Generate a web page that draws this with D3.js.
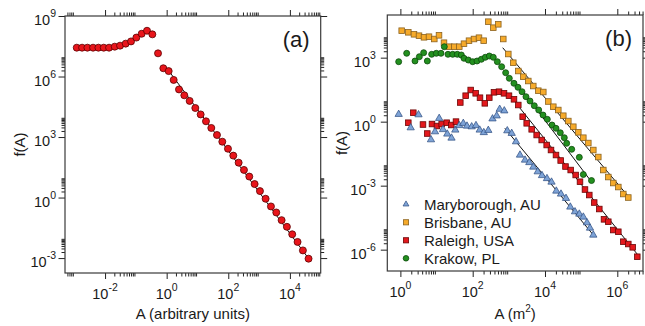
<!DOCTYPE html>
<html><head><meta charset="utf-8">
<script src="https://cdn.jsdelivr.net/npm/d3@7"></script>
<style>
body{margin:0;background:#fff}
svg{display:block}
text{font-family:"Liberation Sans",Arial,Helvetica,sans-serif;fill:#1a1a1a}
</style>
</head><body>
<svg id="c" width="645" height="326"></svg>
<script>
// ---------- Panel (a) data ----------
const aX = [1.205e-3,1.795e-3,2.673e-3,4.08e-3,6.08e-3,9.06e-3,1.349e-2,2.06e-2,3.07e-2,4.68e-2,6.97e-2,
  0.1037,0.1545,0.230,0.343,0.524,0.780,1.161,1.687,2.512,3.741,5.572,8.511,12.68,18.88,28.12,42.95,63.97,
  97.72,145.5,216.8,322.8,480.8,716.1,1067,1629,2427,3614,5383,7998,11912,17742,26424,40365];
const aY = [2.69e7,2.69e7,2.69e7,2.69e7,2.69e7,2.69e7,2.69e7,3.02e7,3.39e7,4.27e7,5.50e7,8.51e7,1.32e8,1.86e8,
  1.23e8,1.41e7,2.57e6,1.86e6,6.76e5,2.29e5,1.17e5,6.17e4,2.75e4,1.32e4,6.03e3,2.82e3,1.26e3,589,263,120,
  53.7,23.4,11.0,4.68,2.09,0.871,0.363,0.182,0.0759,0.0355,0.0151,6.31e-3,2.40e-3,9.33e-4];
const aFitX = [1, 41700];
const aFitY = [2.63e6, 8.9e-4];

// ---------- Panel (b) data ----------
const seriesNames = ["Maryborough, AU","Brisbane, AU","Raleigh, USA","Krakow, PL"];

const maryX = [0.897,1.928,3.170,7.015,9.057,11.83,15.07,19.82,25.94,33.04,42.56,54.95,69.50,93.76,123.3,156.3,
  202.8,270.4,353.2,461.3,558.5,748.2,905.7,1199,1578,2032,2799,3681,4742,6281,8260,11350,15140,20560,27730,
  38110,50120,67610,88920,114800,145200,175800,216800];
const maryY = [2.213,0.520,2.118,0.1426,0.338,1.435,0.4285,0.2636,0.1710,0.4064,0.661,0.838,0.625,0.579,0.661,
  0.4064,0.3097,0.3936,1.361,1.879,3.837,3.228,0.3767,0.2844,0.1148,0.0273,0.0159,0.01216,7.48e-3,4.50e-3,
  2.99e-3,2.16e-3,1.48e-3,5.61e-4,4.06e-4,2.55e-4,9.98e-5,6.00e-5,4.68e-5,3.39e-5,1.83e-5,1.03e-5,4.85e-6];

const brisX = [1.087,1.656,2.377,3.273,4.498,6.18,8.67,11.7,16.07,22.54,30.97,42.56,57.41,79.07,108.6,149.3,
  201.4,270.4,371.5,510.5,701.5,966,1327,1824,2512,3451,4742,6531,8974,12330,16980,23330,32060,44160,60670,
  83370,114800,157800,216800,297900,410200,563600,774500,1067000,1466000,2014000];
const brisY = [18370,15450,12450,10720,9016,9616,7499,11170,5023,3266,3266,3266,4508,6237,7499,8630,6237,
  48530,25410,36640,7499,1486,580.8,237.1,127.9,80.54,46.88,28.25,24.55,8.81,5.02,3.52,1.90,1.07,0.579,
  0.317,0.177,0.0998,0.0469,0.0220,5.41e-3,2.54e-3,1.33e-3,8.63e-4,4.06e-4,2.78e-4];

const raleX = [1.656,2.275,4.217,5.546,7.482,10.28,13.87,19.10,25.59,34.51,45.39,63.97,88.10,121.1,159.2,216.3,
  287.7,388.1,534.6,734.5,1009,1387,1824,2415,3119,4285,5888,8110,11140,14660,20140,27160,36900,51400,70630,
  92900,127600,167900,229600,317700,428500,563600,774500,1067000,1466000,2014000,2667000,3573000];
const raleY = [0.893,2.630,0.735,0.278,0.776,0.625,0.776,0.893,0.697,1.005,7.91,16.48,30.48,21.33,13.27,7.24,
  13.27,23.77,25.35,21.33,16.48,11.17,6.04,1.706,0.838,0.4375,0.2366,0.1380,0.0804,0.0469,0.0273,0.0151,
  7.89e-3,5.41e-3,3.16e-3,1.53e-3,6.59e-4,3.64e-4,1.62e-4,8.04e-5,2.64e-5,2.04e-5,8.32e-6,6.92e-6,2.36e-6,
  1.84e-6,1.29e-6,4.66e-7];

const krakX = [0.897,1.493,2.535,3.342,4.406,5.559,7.328,9.863,13.27,16.41,20.75,27.93,37.58,48.53,57.54,75.68,
  99.77,131.5,173.4,223.4,288.4,371.5,479.7,632.4,816.6,1030,1387,1791,2312,2979,3846,5058,6699,8810,11590,
  15630,20140,26490,34200,39810,54830,88920,114800,193200];
const krakY = [647,1600,697,1109,1710,697,1435,1600,1600,3266,1435,1435,1435,1334,933,776,647,697,838,1040,1197,
  1040,647,377.6,197.2,107.6,62.81,40.74,25.35,14.79,9.29,5.60,3.52,2.05,1.29,0.697,0.488,0.303,0.177,
  0.0966,0.0506,0.0213,3.33e-3,1.74e-3];

const fitsX = { mary:[776,216800], bris:[676,2239000], rale:[1995,3802000], krak:[2512,199500] };
const fitsY = { mary:[0.49,4.9e-6], bris:[2931,2.55e-4], rale:[4.47,5.37e-7], krak:[25.1,1.41e-3] };

// ---------- tick label exponents ----------
const aXTickExp = [-2,0,2,4];
const aYTickExp = [-3,0,3,6,9];
const bXTickExp = [0,2,4,6];
const bYTickExp = [-6,-3,0,3];

// ---------- drawing ----------
const svg = d3.select("#c");

function minorTicks(exps, dom){
  const out=[];
  const lo=Math.min(dom[0],dom[1]), hi=Math.max(dom[0],dom[1]);
  exps.concat([exps[0]-(exps[1]-exps[0])]).forEach(k=>{
    for(let m=2;m<=9;m++){ const v=m*Math.pow(10,k); if(v>=lo&&v<=hi) out.push(v); }
  });
  return out;
}

function panel(cfg){
  const g = svg.append("g");
  const x = d3.scaleLog().domain(cfg.xDom).range([cfg.left,cfg.right]);
  const y = d3.scaleLog().domain(cfg.yDom).range([cfg.bottom,cfg.top]);
  const majX = cfg.xExp.map(k=>Math.pow(10,k));
  const majY = cfg.yExp.map(k=>Math.pow(10,k));
  const minX = minorTicks(cfg.xExp, cfg.xDom);
  const minY = minorTicks(cfg.yExp, cfg.yDom);

  function ax(gen, transform, vals, size){
    const a = g.append("g").attr("transform",transform)
      .call(gen.tickValues(vals).tickSize(size).tickFormat("").tickSizeOuter(0));
    a.select(".domain").remove();
    a.selectAll("line").attr("stroke","#222").attr("stroke-width",1);
  }
  ax(d3.axisBottom(x),`translate(0,${cfg.bottom})`,majX,6);
  ax(d3.axisBottom(x),`translate(0,${cfg.bottom})`,minX,3.5);
  ax(d3.axisTop(x),`translate(0,${cfg.top})`,majX,6);
  ax(d3.axisTop(x),`translate(0,${cfg.top})`,minX,3.5);
  ax(d3.axisLeft(y),`translate(${cfg.left},0)`,majY,6.5);
  ax(d3.axisLeft(y),`translate(${cfg.left},0)`,minY,3.5);
  ax(d3.axisRight(y),`translate(${cfg.right},0)`,majY,6.5);
  ax(d3.axisRight(y),`translate(${cfg.right},0)`,minY,3.5);

  g.append("rect").attr("x",cfg.left).attr("y",cfg.top)
    .attr("width",cfg.right-cfg.left).attr("height",cfg.bottom-cfg.top)
    .attr("fill","none").attr("stroke","#3a3a3a").attr("stroke-width",1.2);

  cfg.xExp.forEach(k=>{
    const t=g.append("text").attr("x",x(Math.pow(10,k))).attr("y",cfg.bottom+25.5)
      .attr("text-anchor","middle").attr("font-size",14.5);
    t.append("tspan").text("10");
    t.append("tspan").attr("dy",-8).attr("font-size",10.5).text(String(k));
  });
  cfg.yExp.forEach(k=>{
    const t=g.append("text").attr("x",cfg.left-cfg.yLabGap).attr("y",y(Math.pow(10,k))+9.3)
      .attr("text-anchor","end").attr("font-size",14.5);
    t.append("tspan").text("10");
    t.append("tspan").attr("dy",-8).attr("font-size",10.5).text(String(k));
  });
  const xt=g.append("text").attr("x",(cfg.left+cfg.right)/2).attr("y",319)
    .attr("text-anchor","middle").attr("font-size",15);
  cfg.xTitle(xt);
  g.append("text").attr("transform",`translate(${cfg.yTitleX},${(cfg.top+cfg.bottom)/2}) rotate(-90)`)
    .attr("text-anchor","middle").attr("font-size",15).text("f(A)");
  g.append("text").attr("x",cfg.right-11).attr("y",cfg.top+31).attr("text-anchor","end")
    .attr("font-size",22).text(cfg.tag);
  return {g,x,y};
}

// Panel (a)
const pa = panel({left:65,right:320.7,top:16,bottom:273,
  xDom:[5.01e-4,1e5], yDom:[1.82e-4,1e9], xExp:aXTickExp, yExp:aYTickExp, yLabGap:9,
  yTitleX:25, tag:"(a)",
  xTitle:t=>t.text("A (arbitrary units)")});
const lineGen=(p)=>d3.line().x(d=>p.x(d[0])).y(d=>p.y(d[1]));
pa.g.append("path").datum(d3.zip(aFitX,aFitY)).attr("d",lineGen(pa))
  .attr("stroke","#111").attr("stroke-width",1).attr("fill","none");
pa.g.selectAll("circle.pt").data(d3.zip(aX,aY)).join("circle").attr("class","pt")
  .attr("cx",d=>pa.x(d[0])).attr("cy",d=>pa.y(d[1])).attr("r",3.5)
  .attr("fill","#e8151b").attr("stroke","#5a0000").attr("stroke-width",0.8);

// Panel (b)
const pb = panel({left:387.3,right:643,top:15,bottom:271,
  xDom:[0.4345,5.14e6], yDom:[1e-7,1e5], xExp:bXTickExp, yExp:bYTickExp, yLabGap:11.5,
  yTitleX:347, tag:"(b)",
  xTitle:t=>{t.append("tspan").text("A (m");t.append("tspan").attr("dy",-7).attr("font-size",10).text("2");
    t.append("tspan").attr("dy",7).text(")");}});

["bris","krak","rale","mary"].forEach(k=>{
  pb.g.append("path").datum(d3.zip(fitsX[k],fitsY[k])).attr("d",lineGen(pb))
    .attr("stroke","#111").attr("stroke-width",1).attr("fill","none");
});

const styles = {
  mary:{fill:"#7ea3d6",stroke:"#2b4a7e"},
  bris:{fill:"#f6aa2a",stroke:"#8a6220"},
  rale:{fill:"#e3181c",stroke:"#6a0505"},
  krak:{fill:"#23901f",stroke:"#0d4a0b"}
};
function drawSq(data,st,s){
  pb.g.append("g").selectAll("rect").data(data).join("rect")
    .attr("x",d=>pb.x(d[0])-s/2).attr("y",d=>pb.y(d[1])-s/2).attr("width",s).attr("height",s)
    .attr("fill",st.fill).attr("stroke",st.stroke).attr("stroke-width",0.8);
}
function drawCirc(data,st,r){
  pb.g.append("g").selectAll("circle").data(data).join("circle")
    .attr("cx",d=>pb.x(d[0])).attr("cy",d=>pb.y(d[1])).attr("r",r)
    .attr("fill",st.fill).attr("stroke",st.stroke).attr("stroke-width",0.8);
}
function drawTri(data,st,size){
  const sym=d3.symbol(d3.symbolTriangle).size(size);
  pb.g.append("g").selectAll("path").data(data).join("path")
    .attr("transform",d=>`translate(${pb.x(d[0])},${pb.y(d[1])})`).attr("d",sym)
    .attr("fill",st.fill).attr("stroke",st.stroke).attr("stroke-width",0.7);
}
drawSq(d3.zip(brisX,brisY),styles.bris,5.6);
drawCirc(d3.zip(krakX,krakY),styles.krak,3.0);
drawSq(d3.zip(raleX,raleY),styles.rale,5.6);
drawTri(d3.zip(maryX,maryY),styles.mary,23);

// legend
const legKeys=["mary","bris","rale","krak"];
const legY0=204.3, legDy=18;
const lg=pb.g.append("g");
legKeys.forEach((k,i)=>{
  const cy=legY0+i*legDy, cx=406;
  const st=styles[k];
  if(k==="mary") lg.append("path").attr("transform",`translate(${cx},${cy})`)
      .attr("d",d3.symbol(d3.symbolTriangle).size(15)).attr("fill",st.fill).attr("stroke",st.stroke).attr("stroke-width",0.7);
  else if(k==="krak") lg.append("circle").attr("cx",cx).attr("cy",cy).attr("r",2.8)
      .attr("fill",st.fill).attr("stroke",st.stroke).attr("stroke-width",0.8);
  else lg.append("rect").attr("x",cx-2.6).attr("y",cy-2.6).attr("width",5.2).attr("height",5.2)
      .attr("fill",st.fill).attr("stroke",st.stroke).attr("stroke-width",0.8);
  lg.append("text").attr("x",424).attr("y",cy+5.3).attr("font-size",15).text(seriesNames[i]);
});
</script>
</body></html>
